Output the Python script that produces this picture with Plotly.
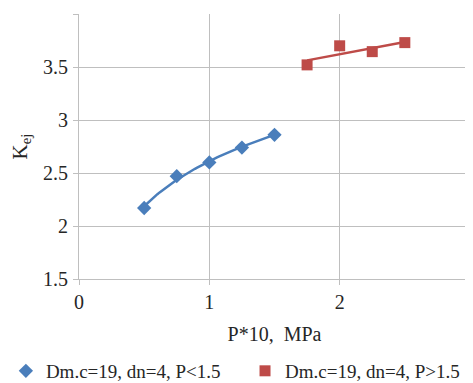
import numpy as np
import plotly.graph_objects as go

x_low = [0.5, 0.75, 1.0, 1.25, 1.5]
y_low = [2.17, 2.47, 2.60, 2.74, 2.86]
x_high = [1.75, 2.0, 2.25, 2.5]
y_high = [3.52, 3.70, 3.645, 3.73]
name_low = "Dm.c=19, dn=4, P<1.5"
name_high = "Dm.c=19, dn=4, P>1.5"

blue = "#4A7EBB"
red = "#BE4B48"
grid = "#BFBFBF"
font = "Times New Roman, Liberation Serif, DejaVu Serif, serif"

# trendlines fitted from the data (log for low, linear for high)
a, b = np.polyfit(np.log(x_low), y_low, 1)
xl = np.linspace(min(x_low), max(x_low), 60)
yl = a * np.log(xl) + b
m, c = np.polyfit(x_high, y_high, 1)
xh = np.array([min(x_high), max(x_high)])
yh = m * xh + c

fig = go.Figure()
fig.add_trace(go.Scatter(x=xl, y=yl, mode="lines", line=dict(color=blue, width=2.5),
                         showlegend=False, hoverinfo="skip"))
fig.add_trace(go.Scatter(x=xh, y=yh, mode="lines", line=dict(color=red, width=2.5),
                         showlegend=False, hoverinfo="skip"))
fig.add_trace(go.Scatter(x=x_low, y=y_low, mode="markers", name=name_low, legend="legend",
                         marker=dict(symbol="diamond", size=11, color=blue)))
fig.add_trace(go.Scatter(x=x_high, y=y_high, mode="markers", name=name_high, legend="legend2",
                         marker=dict(symbol="square", size=11, color=red)))

leg_common = dict(orientation="h", xanchor="left", y=-0.347, yanchor="middle",
                  font=dict(size=19, family=font), itemwidth=30,
                  bgcolor="rgba(0,0,0,0)")

# page body has an 8px default margin, so the figure is sized 8px smaller
fig.update_layout(
    width=465, height=375,
    margin=dict(l=71, r=3, t=6, b=104, autoexpand=False),
    paper_bgcolor="white", plot_bgcolor="white",
    font=dict(family=font, size=20, color="#262626"),
    legend=dict(x=-0.187, **leg_common),
    legend2=dict(x=0.4246, **leg_common),
    xaxis=dict(range=[0, 3], dtick=1, showgrid=True, gridcolor=grid, gridwidth=1,
               showline=True, linecolor=grid, ticks="outside", tickcolor=grid, ticklen=5,
               zeroline=False, tickfont=dict(size=20, family=font), automargin=False,
               ticklabelstandoff=0, ticklabeloverflow="allow",
               title=dict(text="P*10,\u00a0 MPa", font=dict(size=20, family=font), standoff=14)),
    yaxis=dict(range=[1.5, 4], dtick=0.5, showgrid=True, gridcolor=grid, gridwidth=1,
               showline=True, linecolor=grid, ticks="outside", tickcolor=grid, ticklen=5,
               zeroline=False, tickfont=dict(size=20, family=font), automargin=False,
               ticklabelstandoff=1,
               title=dict(text="K<sub>ej</sub>", font=dict(size=21, family=font), standoff=13)),
)

fig.write_html("out.html")
